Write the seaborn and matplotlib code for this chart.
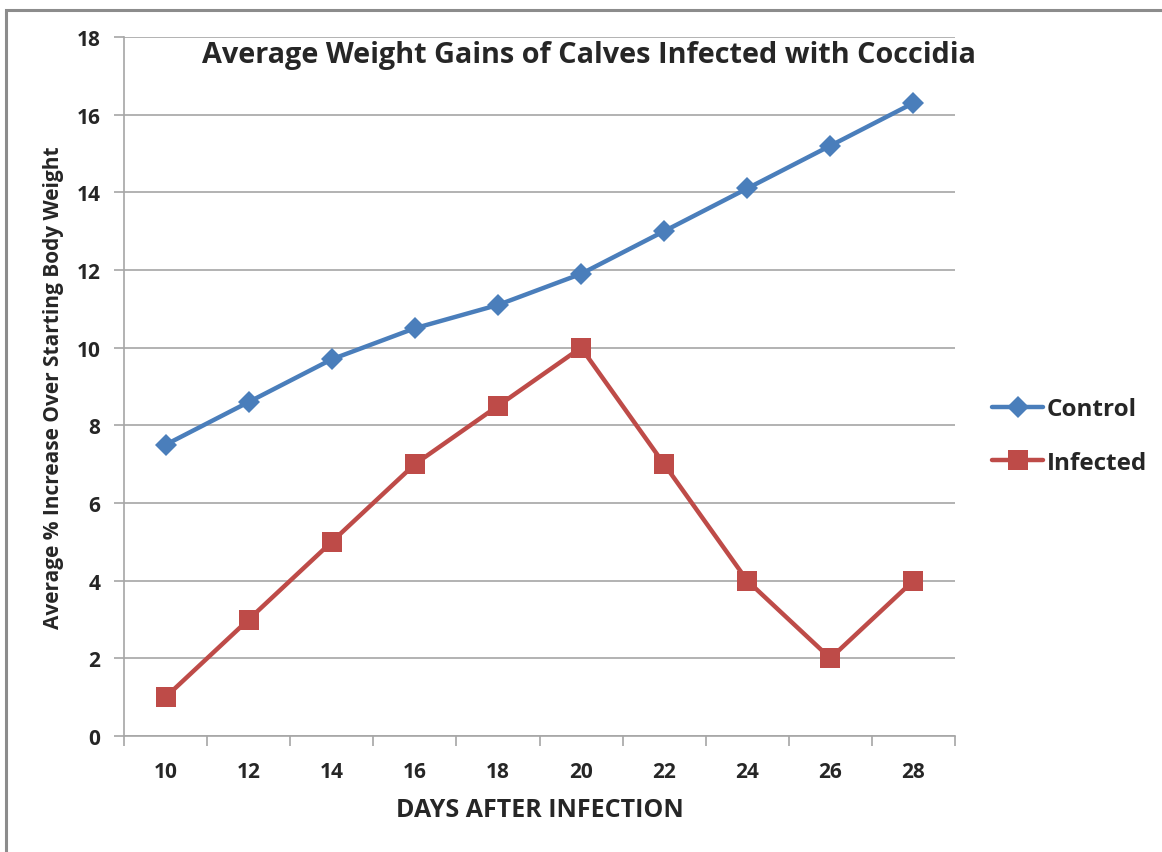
import matplotlib
matplotlib.use("Agg")
import matplotlib.pyplot as plt
import matplotlib.patches as mpatches
from matplotlib.ticker import FixedLocator, MultipleLocator
import seaborn as sns
import pandas as pd

days = ["10", "12", "14", "16", "18", "20", "22", "24", "26", "28"]
control = [7.5, 8.6, 9.7, 10.5, 11.1, 11.9, 13.0, 14.1, 15.2, 16.3]
infected = [1, 3, 5, 7, 8.5, 10, 7, 4, 2, 4]
series_names = ["Control", "Infected"]
colors = ["#4A7EBB", "#BE4B48"]

df = pd.DataFrame({
    "Day": days * 2,
    "Value": control + infected,
    "Group": [series_names[0]] * len(days) + [series_names[1]] * len(days),
})

sns.set_style("white")
plt.rcParams["font.family"] = ["Open Sans", "DejaVu Sans"]
plt.rcParams["font.weight"] = "bold"

fig = plt.figure(figsize=(11.62, 8.53), dpi=100)
ax = fig.add_axes([124/1162, 1-737/853, (955-124)/1162, (737-38)/853])

sns.lineplot(data=df, x="Day", y="Value", hue="Group", style="Group",
             markers={"Control": "D", "Infected": "s"}, dashes=False,
             palette=dict(zip(series_names, colors)), linewidth=3.2,
             markersize=11, markeredgewidth=0, sort=False, ax=ax, legend=False)
for line in ax.lines:
    if line.get_marker() == "s":
        line.set_markersize(14.5)

ax.set_xlim(-0.5, len(days) - 0.5)
ax.set_ylim(0, 18)
ax.yaxis.set_major_locator(MultipleLocator(2))
ax.grid(axis="y", color="#a6a6a6", linewidth=1.2)
ax.grid(axis="x", visible=False)
ax.set_axisbelow(True)
for s in ["top", "right"]:
    ax.spines[s].set_visible(False)
for s in ["left", "bottom"]:
    ax.spines[s].set_color("#a6a6a6")
    ax.spines[s].set_linewidth(1.2)

ax.xaxis.set_minor_locator(FixedLocator([i - 0.5 for i in range(len(days) + 1)]))
ax.tick_params(axis="x", which="major", length=0, pad=18, labelsize=15)
ax.tick_params(axis="x", which="minor", length=7, width=1.2, color="#a6a6a6", direction="out", bottom=True)
ax.tick_params(axis="y", which="major", length=7, width=1.2, color="#a6a6a6", direction="out", left=True, pad=10, labelsize=15)
for lab in ax.get_xticklabels() + ax.get_yticklabels():
    lab.set_fontweight("bold")

ax.set_xlabel("DAYS AFTER INFECTION", fontsize=18, fontweight="bold", labelpad=11)
ax.set_ylabel("Average % Increase Over Starting Body Weight", fontsize=15, fontweight="bold", labelpad=9)
fig.text(589/1162, 1-55/853, "Average Weight Gains of Calves Infected with Coccidia",
         ha="center", va="center", fontsize=20.8, fontweight="bold")

handles = [plt.Line2D([], [], color=c, marker=m, lw=3.2, markersize=ms, markeredgewidth=0)
           for c, m, ms in zip(colors, ["D", "s"], [11, 14.5])]
fig.legend(handles, series_names, loc="center left", bbox_to_anchor=(992/1162, 1-437/853),
           frameon=False, handlelength=2.1, handletextpad=0.16, borderpad=0, borderaxespad=0,
           labelspacing=1.2, prop={"weight": "bold", "size": 17.5})

border = mpatches.Rectangle((6/1162, -0.05), 1.2, 1 - 11/853 + 0.05, transform=fig.transFigure,
                            fill=False, edgecolor="#8c8c8c", linewidth=2.2)
fig.patches.append(border)

fig.savefig("out.png", dpi=100)
